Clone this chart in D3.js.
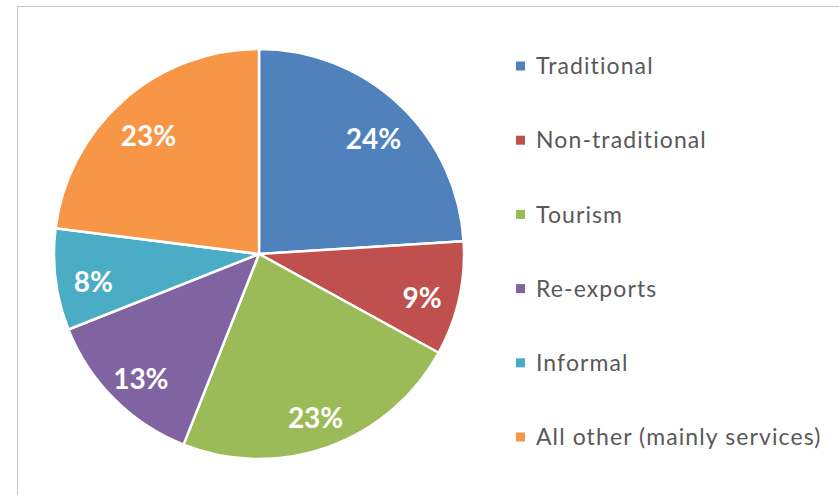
<!DOCTYPE html>
<html>
<head>
<meta charset="utf-8">
<script src="https://cdn.jsdelivr.net/npm/d3@7"></script>
<style>
  body { margin: 0; background: #fff; }
  svg { display: block; }
</style>
</head>
<body>
<svg width="839" height="495"></svg>
<script>
var categories = ["Traditional", "Non-traditional", "Tourism", "Re-exports", "Informal", "All other (mainly services)"];
var shares = [24, 9, 23, 13, 8, 23];
var colors = ["#4F81BD", "#C0504D", "#9BBB59", "#8064A2", "#4BACC6", "#F79646"];

var svg = d3.select("svg"),
    cx = 259, cy = 254, radius = 205;

// chart frame (only top and left edges visible)
svg.append("rect")
    .attr("x", 17.5).attr("y", 6.5)
    .attr("width", 900).attr("height", 600)
    .attr("fill", "none")
    .attr("stroke", "#c6c6c6");

var data = categories.map(function(c, i) { return { name: c, value: shares[i], color: colors[i] }; });

var pie = d3.pie().sort(null).value(function(d) { return d.value; });
var arc = d3.arc().innerRadius(0).outerRadius(radius);
var labelArc = d3.arc().innerRadius(radius * 0.815).outerRadius(radius * 0.815);

var g = svg.append("g").attr("transform", "translate(" + cx + "," + cy + ")");

var slices = pie(data);

g.selectAll("path")
  .data(slices)
  .enter().append("path")
    .attr("d", arc)
    .attr("fill", function(d) { return d.data.color; })
    .attr("stroke", "#fff")
    .attr("stroke-width", 2.5)
    .attr("stroke-linejoin", "round");

g.selectAll("text")
  .data(slices)
  .enter().append("text")
    .attr("transform", function(d) {
      var c = labelArc.centroid(d);
      return "translate(" + c[0] + "," + (c[1] + 7) + ")"; // labels sit a bit low in the original
    })
    .attr("text-anchor", "middle")
    .attr("dy", "0.36em")
    .attr("fill", "#fff")
    .style("font-family", "Lato, 'Open Sans', sans-serif")
    .style("font-weight", "bold")
    .style("font-size", "28px")
    .text(function(d) { return d.data.value + "%"; });

// legend
var legend = svg.append("g")
  .selectAll("g")
  .data(data)
  .enter().append("g")
    .attr("transform", function(d, i) { return "translate(516," + (66 + i * 74.2) + ")"; });

legend.append("rect")
    .attr("x", 0).attr("y", -4.5)
    .attr("width", 9).attr("height", 9)
    .attr("fill", function(d) { return d.color; });

legend.append("text")
    .attr("x", 20)
    .attr("dy", "0.36em")
    .attr("fill", "#595959")
    .style("font-family", "Lato, 'Open Sans', sans-serif")
    .style("font-size", "23px")
    .style("letter-spacing", "1.1px")
    .text(function(d) { return d.name; });
</script>
</body>
</html>
